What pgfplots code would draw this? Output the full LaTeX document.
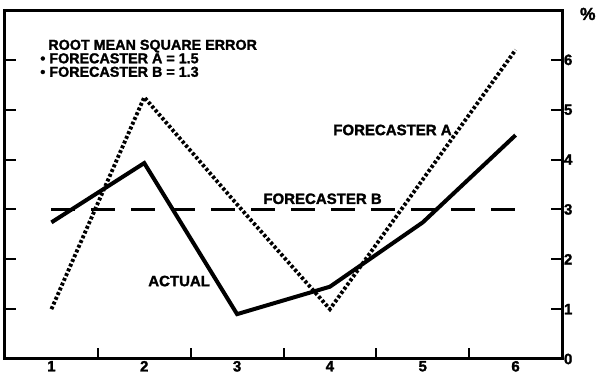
\documentclass[border=0pt]{standalone}
\usepackage{fontspec}
\setmainfont{Liberation Sans}[BoldFeatures={FakeBold=1.6}]
\usepackage{pgfplots}
\pgfplotsset{compat=1.18}

\begin{document}
\begin{tikzpicture}
\begin{axis}[
  scale only axis,
  width=334.2pt, height=209.4pt,
  xmin=0.5, xmax=6.5, ymin=0, ymax=7,
  axis line style={line width=1.8pt},
  xtick={1,...,6}, ytick={0,...,6},
  minor xtick={1.5,2.5,3.5,4.5,5.5},
  minor ytick={0,...,6},
  major tick length=0pt, minor tick length=6.5pt,
  tick align=inside,
  xtick pos=bottom, ytick pos=both, yticklabel pos=right,
  every minor tick/.append style={line width=1.2pt, black},
  /pgf/number format/assume math mode=true,
  ticklabel style={font=\fontsize{9}{9}\selectfont\bfseries, inner sep=1pt},
  clip=false,
]
% actual values
\addplot[black, line width=2.4pt, line join=miter]
  coordinates {(1,2.74) (2,3.93) (3,0.90) (4,1.45) (5,2.74) (6,4.49)};
% forecaster A
\addplot[black, line width=2.3pt, dash pattern=on 1.8pt off 1.3pt]
  coordinates {(1,1.00) (2,5.25) (3,3.10) (4,1.00) (5,3.60) (6,6.20)};
% forecaster B
\addplot[black, line width=2.2pt, dash pattern=on 14pt off 10pt]
  coordinates {(1,3.0) (6,3.0)};

\begin{scope}[every node/.style={inner sep=0pt, font=\fontsize{9}{9}\selectfont\bfseries}]
\node[anchor=north west, align=left, font=\fontsize{8.6}{8.1}\selectfont\bfseries]
  at (axis cs:0.877,6.41)
  {\hspace*{4.8pt}ROOT MEAN SQUARE ERROR\\
   • FORECASTER A = 1.5\\
   • FORECASTER B = 1.3};
\node[anchor=base west] at (axis cs:4.033,4.49) {FORECASTER A};
\node[anchor=base west] at (axis cs:3.28,3.11) {FORECASTER B};
\node[anchor=base west] at (axis cs:2.04,1.46) {ACTUAL};
\node[anchor=base west, font=\fontsize{10.5}{10}\selectfont\bfseries] at (axis cs:6.69,6.80) {\%};
\end{scope}
\end{axis}
\pgfresetboundingbox
\path[use as bounding box]
  ([xshift=-3pt,yshift=-11.4pt]current axis.south west)
  rectangle ([xshift=22.8pt,yshift=6pt]current axis.north east);
\end{tikzpicture}
\end{document}
